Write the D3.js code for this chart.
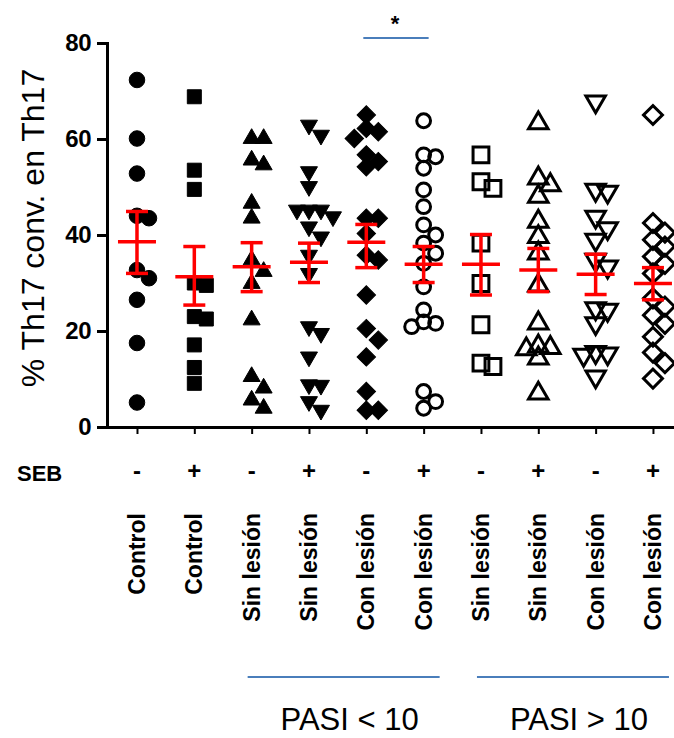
<!DOCTYPE html>
<html><head><meta charset="utf-8">
<script src="https://cdn.jsdelivr.net/npm/d3@7"></script>
<style>body{margin:0;background:#fff}svg{display:block}</style>
</head><body><svg id="c" width="674" height="738"></svg>
<script>
// ---------- data ----------
const categories = ["Control","Control","Sin lesión","Sin lesión","Con lesión","Con lesión","Sin lesión","Sin lesión","Con lesión","Con lesión"];
const seb = ["-","+","-","+","-","+","-","+","-","+"];
const groupLabels = ["PASI < 10","PASI > 10"];
const yTicks = [0,20,40,60,80];
const yTitle = "% Th17 conv. en Th17";
const sebLabel = "SEB";

const controlNeg = [72.3, 60.1, 52.8, 44.0, 43.5, 32.7, 31.0, 26.5, 17.5, 5.1];
const controlPos = [68.8, 53.5, 49.5, 30.0, 29.5, 23.0, 22.5, 17.1, 12.4, 9.1];
const sinNegLow = [60.1, 60.1, 55.6, 54.6, 46.6, 43.5, 34.8, 32.4, 29.9, 22.3, 10.5, 8.1, 5.6, 3.9];
const sinPosLow = [62.9, 60.8, 53.2, 50.1, 45.2, 45.2, 45.2, 43.8, 41.7, 39.6, 35.8, 32.0, 20.9, 19.5, 14.6, 8.8, 8.7, 5.3, 3.5];
const conNegLow = [65.0, 62.2, 61.5, 60.1, 56.7, 55.3, 54.2, 43.5, 43.5, 40.3, 35.8, 34.8, 27.5, 20.5, 18.1, 14.6, 7.4, 3.5, 3.5];
const conPosLow = [63.8, 56.7, 56.3, 53.9, 49.4, 45.9, 42.1, 40.0, 38.3, 36.2, 34.1, 29.2, 24.4, 21.9, 21.6, 20.9, 7.4, 5.3, 3.9];
const sinNegHigh = [56.7, 51.1, 49.7, 38.3, 29.9, 21.3, 13.3, 12.6];
const sinPosHigh = [63.3, 51.8, 50.4, 48.0, 42.8, 39.6, 36.2, 29.5, 21.6, 16.8, 16.5, 16.2, 14.3, 7.0];
const conNegHigh = [67.8, 49.4, 49.0, 43.8, 41.4, 39.0, 34.8, 33.4, 24.7, 24.4, 21.6, 15.6, 15.3, 15.0, 10.5];
const conPosHigh = [65.0, 42.5, 40.5, 39.0, 37.6, 35.5, 34.0, 32.0, 26.8, 25.1, 23.3, 21.5, 18.8, 15.5, 13.3, 10.1];

const means   = [38.6, 31.3, 33.4, 34.3, 38.5, 33.9, 33.9, 32.7, 31.8, 29.9];
const semLow  = [32.0, 25.4, 28.2, 30.1, 33.2, 30.1, 27.5, 28.2, 27.6, 26.5];
const semHigh = [44.9, 37.6, 38.4, 38.3, 42.2, 37.6, 40.1, 37.2, 36.0, 33.2];

const seriesValues = [controlNeg, controlPos, sinNegLow, sinPosLow, conNegLow, conPosLow, sinNegHigh, sinPosHigh, conNegHigh, conPosHigh];

// ---------- marker styles ----------
const markers = [
  {type: d3.symbolCircle, size: 190, open: false, rot: 0},
  {type: d3.symbolSquare, size: 196, open: false, rot: 0},
  {type: d3.symbolTriangle, size: 125, open: false, rot: 0},
  {type: d3.symbolTriangle, size: 125, open: false, rot: 180},
  {type: d3.symbolSquare, size: 170, open: false, rot: 45},
  {type: d3.symbolCircle, size: 150, open: true, rot: 0},
  {type: d3.symbolSquare, size: 250, open: true, rot: 0},
  {type: d3.symbolTriangle, size: 165, open: true, rot: 0},
  {type: d3.symbolTriangle, size: 165, open: true, rot: 180},
  {type: d3.symbolSquare, size: 180, open: true, rot: 45}
];

const svg = d3.select("#c");
svg.append("rect").attr("width",674).attr("height",738).attr("fill","#fff");

const x = d3.scaleLinear().domain([-0.523, 9.367]).range([107, 674]);
const y = d3.scaleLinear().domain([0, 80]).range([427, 43]);

// ---------- points (simple beeswarm) ----------
const step = 12, rowGap = 12;
seriesValues.forEach((vals, gi) => {
  const sorted = vals.map((v, i) => ({v, i})).sort((a, b) => b.v - a.v);
  const placed = [];
  const cands = [0, 1, -1, 2, -2, 3, -3];
  sorted.forEach(p => {
    const py = y(p.v);
    let off = 0;
    for (const c of cands) {
      const ox = c * step;
      const hit = placed.some(q => Math.abs(q.y - py) < rowGap && Math.abs(q.ox - ox) < step * 0.9);
      if (!hit) { off = ox; break; }
    }
    placed.push({y: py, ox: off, v: p.v});
  });
  const m = markers[gi];
  const sym = d3.symbol().type(m.type).size(m.size);
  svg.append("g").selectAll("path").data(placed).join("path")
    .attr("d", sym)
    .attr("transform", d => `translate(${x(gi) + d.ox},${d.y}) rotate(${m.rot})`)
    .attr("fill", m.open ? "none" : "#000")
    .attr("stroke", "#000")
    .attr("stroke-width", m.open ? 3 : 1);
});

// ---------- mean and SEM ----------
const red = "#ff0000";
const eg = svg.append("g").attr("stroke", red).attr("stroke-width", 3.5).attr("fill","none");
means.forEach((mv, i) => {
  const cx = x(i);
  eg.append("line").attr("x1", cx - 19).attr("x2", cx + 19).attr("y1", y(mv)).attr("y2", y(mv));
  eg.append("line").attr("x1", cx).attr("x2", cx).attr("y1", y(semLow[i])).attr("y2", y(semHigh[i]));
  eg.append("line").attr("x1", cx - 11).attr("x2", cx + 11).attr("y1", y(semLow[i])).attr("y2", y(semLow[i]));
  eg.append("line").attr("x1", cx - 11).attr("x2", cx + 11).attr("y1", y(semHigh[i])).attr("y2", y(semHigh[i]));
});

// ---------- axes ----------
const font = "'Liberation Sans', Arial, sans-serif";
const yAxis = svg.append("g").attr("transform","translate(107,0)")
  .call(d3.axisLeft(y).tickValues(yTicks).tickSize(10).tickSizeOuter(0).tickPadding(6));
yAxis.select(".domain").attr("stroke","#000").attr("stroke-width",3).attr("stroke-linecap","square");
yAxis.selectAll(".tick line").attr("stroke","#000").attr("stroke-width",3);
yAxis.selectAll(".tick text").attr("font-family",font).attr("font-weight","bold")
  .attr("font-size",24).attr("fill","#000").attr("letter-spacing","-0.5");

const xAxis = svg.append("g").attr("transform","translate(0,427)")
  .call(d3.axisBottom(x).tickValues(d3.range(categories.length)).tickFormat("").tickSize(7).tickSizeOuter(0));
xAxis.select(".domain").attr("stroke","#000").attr("stroke-width",3).attr("stroke-linecap","square");
xAxis.selectAll(".tick line").attr("stroke","#000").attr("stroke-width",2);

// y title
svg.append("text").attr("transform","translate(44,228) rotate(-90)")
  .attr("text-anchor","middle").attr("font-family",font).attr("font-size",32).attr("fill","#000")
  .text(yTitle);

// SEB row
svg.append("text").attr("x",17).attr("y",481).attr("font-family",font).attr("font-weight","bold")
  .attr("font-size",22).attr("fill","#000").text(sebLabel);
svg.append("g").selectAll("text").data(seb).join("text")
  .attr("x",(d,i)=>x(i)).attr("y",479).attr("text-anchor","middle")
  .attr("font-family",font).attr("font-weight","bold").attr("font-size",24).attr("fill","#000")
  .text(d=>d);

// category labels
svg.append("g").selectAll("text").data(categories).join("text")
  .attr("transform",(d,i)=>`translate(${x(i)+8},513) rotate(-90)`)
  .attr("text-anchor","end").attr("font-family",font).attr("font-weight","bold")
  .attr("font-size",23).attr("fill","#000").text(d=>d);

// group brackets
const blue = "#4a7ebb";
const groups = [{from:2,to:5,label:groupLabels[0]},{from:6,to:9,label:groupLabels[1]}];
groups.forEach(g => {
  const x1 = x(g.from) - 4, x2 = x(g.to) + 16;
  svg.append("line").attr("x1",x1).attr("x2",x2).attr("y1",677).attr("y2",677)
    .attr("stroke",blue).attr("stroke-width",2);
  svg.append("text").attr("x",(x1+x2)/2 + 6).attr("y",730).attr("text-anchor","middle")
    .attr("font-family",font).attr("font-size",31).attr("fill","#000").text(g.label);
});

// significance
svg.append("line").attr("x1",x(4)-3).attr("x2",x(5)+5).attr("y1",38).attr("y2",38)
  .attr("stroke",blue).attr("stroke-width",2);
svg.append("text").attr("x",(x(4)+x(5))/2).attr("y",31).attr("text-anchor","middle")
  .attr("font-family",font).attr("font-weight","bold").attr("font-size",22).attr("fill","#000").text("*");
</script></body></html>
